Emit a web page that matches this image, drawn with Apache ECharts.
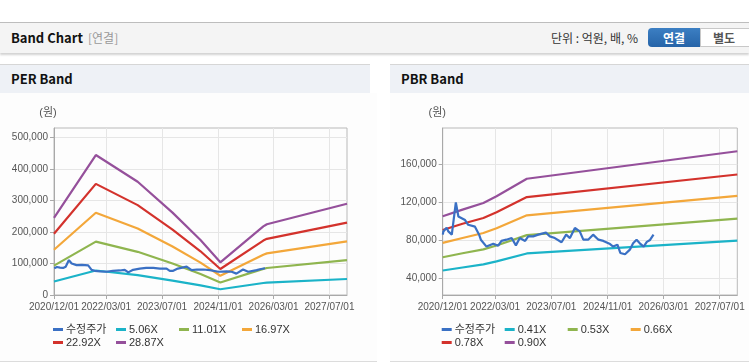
<!DOCTYPE html>
<html><head><meta charset="utf-8">
<script src="https://cdn.jsdelivr.net/npm/echarts@6/dist/echarts.min.js"></script>
<style>
html,body{margin:0;padding:0;width:749px;height:364px;overflow:hidden;background:#fff;font-family:"Noto Sans CJK KR","Liberation Sans",sans-serif;}
#hdr{position:absolute;left:0;top:22px;width:749px;height:30px;background:#f4f4f4;border-top:1px solid #bdbdbd;box-shadow:0 2px 2px rgba(0,0,0,0.18);}
#hdr .t{position:absolute;left:11px;top:6px;font-size:13px;font-weight:bold;color:#111;line-height:18px;}
#hdr .s{position:absolute;left:88px;top:6px;font-size:12px;color:#999;line-height:18px;}
#hdr .u{position:absolute;left:551px;top:6px;font-size:12px;color:#333;line-height:18px;}
#b1{position:absolute;left:648px;top:5px;width:52px;height:19px;background:linear-gradient(#3c7fc3,#2664a8);border-radius:4px 0 0 4px;color:#fff;font-size:12px;font-weight:bold;text-align:center;line-height:19px;}
#b2{position:absolute;left:700px;top:5px;width:52px;height:17px;background:#fff;border:1px solid #c8c8c8;color:#555;font-size:12px;font-weight:bold;text-align:center;line-height:17px;padding-right:0;}
#b2 span{position:relative;left:-3px;}
.pt{position:absolute;top:64px;height:28px;background:#eef1f6;border-top:1px solid #d6d6d6;}
.pt span{position:absolute;left:11px;top:5px;font-size:13px;font-weight:bold;color:#111;line-height:18px;}
.pb{position:absolute;top:93px;height:268px;background:#fdfdfd;border-bottom:1px solid #dcdcdc;}
.ch{position:absolute;top:93px;height:269px;}
</style></head>
<body>
<div id="hdr"><span class="t">Band Chart</span><span class="s">[연결]</span><span class="u">단위 : 억원, 배, %</span><div id="b1">연결</div><div id="b2"><span>별도</span></div></div>
<div class="pt" style="left:0;width:370px"><span>PER Band</span></div>
<div class="pt" style="left:390px;width:359px"><span>PBR Band</span></div>
<div class="pb" style="left:0;width:377px"></div>
<div class="pb" style="left:390px;width:359px"></div>
<div id="c1" class="ch" style="left:0;width:370px"></div>
<div id="c2" class="ch" style="left:390px;width:359px"></div>
<script>
// ---------- data ----------
const xTickDates = ['2020-12-01','2022-03-01','2023-07-01','2024-11-01','2026-03-01','2027-07-01'];
const xStart = '2020-12-01', xEnd = '2027-12-01';

// PER band
const perLegend = ['수정주가','5.06X','11.01X','16.97X','22.92X','28.87X'];
const perBandDates = ['2020-12-01','2021-12-01','2022-12-01','2023-10-01','2024-06-01','2024-11-21','2025-12-01','2026-01-01','2027-12-01'];
const per506  = [42900, 78000, 63100, 45900, 30700, 18200, 38200, 39400, 50800];
const per1101 = [93400, 169700, 137300, 99900, 66700, 39700, 83100, 85800, 110600];
const per1697 = [144000, 261600, 211600, 154000, 102900, 61100, 128100, 132300, 170500];
const per2292 = [194500, 353300, 285800, 208000, 139000, 82600, 173100, 178600, 230300];
const per2887 = [245000, 445000, 360000, 262000, 175000, 104000, 218000, 225000, 290000];
const perPriceDates = ['2020-12-03','2020-12-27','2021-01-22','2021-02-18','2021-03-13','2021-04-10','2021-05-04','2021-06-16','2021-08-01','2021-09-25','2021-10-25','2021-11-22','2022-01-07','2022-03-04','2022-04-28','2022-06-28','2022-08-10','2022-09-10','2022-10-22','2022-12-19','2023-02-13','2023-04-16','2023-06-13','2023-08-10','2023-09-07','2023-10-07','2023-11-16','2024-02-01','2024-03-16','2024-05-01','2024-06-25','2024-08-22','2024-11-04','2025-01-16','2025-02-28','2025-04-10','2025-04-25','2025-06-07','2025-07-22','2025-10-04','2025-11-01','2025-12-16'];
const perPrice = [85000,89000,87000,86000,90000,111000,100000,95000,96000,94000,80000,77000,75000,74000,77000,78000,80000,72000,80000,84000,86000,86000,84000,84000,77000,77000,84000,90000,79000,81000,81000,79000,74000,75000,74000,68000,67000,81000,74000,79000,82000,85000];
const perYTicks = [0,100000,200000,300000,400000,500000];

// PBR band
const pbrLegend = ['수정주가','0.41X','0.53X','0.66X','0.78X','0.90X'];
const pbrBandDates = ['2020-12-01','2021-05-22','2021-11-19','2022-03-13','2022-12-01','2027-12-01'];
const pbr041 = [47800, 51000, 54200, 57400, 65800, 79300];
const pbr053 = [61800, 66000, 70100, 74200, 85100, 102500];
const pbr066 = [77000, 82100, 87300, 92400, 106000, 126500];
const pbr078 = [90500, 97100, 103100, 109200, 125200, 149000];
const pbr090 = [105000, 112000, 119000, 126000, 144500, 173500];
const pbrPriceDates = ['2020-12-02','2020-12-07','2021-01-04','2021-01-19','2021-02-18','2021-03-07','2021-03-25','2021-04-16','2021-04-28','2021-06-13','2021-07-10','2021-09-07','2021-10-13','2021-10-28','2021-12-16','2022-02-13','2022-03-28','2022-04-25','2022-06-07','2022-07-22','2022-08-28','2022-10-01','2022-11-16','2022-12-13','2023-01-25','2023-03-10','2023-05-16','2023-06-19','2023-08-01','2023-09-28','2023-11-07','2023-12-10','2024-01-22','2024-03-04','2024-04-04','2024-05-16','2024-06-28','2024-08-13','2024-09-25','2024-11-22','2024-12-19','2025-01-25','2025-02-19','2025-04-01','2025-05-13','2025-06-10','2025-07-10','2025-08-07','2025-09-10','2025-10-07','2025-11-04','2025-12-04'];
const pbrPrice = [85600,89000,93000,89000,85600,87000,119600,104800,106000,101000,96000,94000,85600,80300,73000,76000,74000,79000,80300,82000,74300,82000,79000,83800,83800,85600,87700,83800,82000,77600,85600,82000,92600,89000,80300,80300,85600,80300,79000,75700,73000,75000,66300,65000,69800,76500,80300,76500,73000,78000,80000,85600];
const pbrYTicks = [40000,80000,120000,160000];

const colors = ['#3a70c4','#1bb3c8','#8fb54f','#f3a73a','#d3322c','#95509b'];

// ---------- build ----------
const ts = d => Date.UTC(+d.slice(0,4), +d.slice(5,7) - 1, +d.slice(8,10));
const zip = (ds, vs) => ds.map((d, i) => [ts(d), vs[i]]);
const fmtDate = v => { const d = new Date(v); const m = d.getUTCMonth()+1, dd = d.getUTCDate(); return d.getUTCFullYear() + '/' + (m<10?'0':'') + m + '/' + (dd<10?'0':'') + dd; };
const fmtNum = v => Math.round(v).toString().replace(/\B(?=(\d{3})+(?!\d))/g, ',');
const LF = '"Liberation Sans","Noto Sans CJK KR",sans-serif';

function makeOption(cfg) {
  const xt = xTickDates.map(ts);
  return {
    animation: false,
    color: colors,
    grid: { left: cfg.gl, top: 35, width: cfg.gw, height: 167, show: true, borderColor: '#b9b9b9', borderWidth: 1, backgroundColor: 'transparent' },
    legend: {
      data: cfg.legend, left: cfg.gl - 1, top: 230, width: 262, padding: 0, itemGap: 0,
      icon: 'rect', itemWidth: 10, itemHeight: 3,
      textStyle: { fontSize: 11, color: '#333', fontFamily: LF, width: 50, lineHeight: 13, padding: [0,0,0,-2] }
    },
    xAxis: {
      type: 'value', min: ts(xStart), max: ts(xEnd),
      axisLine: { lineStyle: { color: '#a9a9a9' } },
      axisTick: { show: true, length: 4, lineStyle: { color: '#a9a9a9' }, customValues: xt },
      axisLabel: { customValues: xt, formatter: v => fmtDate(v), fontSize: 10, color: '#555', fontFamily: LF, margin: 7, hideOverlap: false },
      splitLine: { show: true, lineStyle: { color: '#e6e6e6' } }
    },
    yAxis: {
      type: 'value', min: cfg.ymin, max: cfg.ymax,
      name: '(원)', nameLocation: 'end', nameGap: 10,
      nameTextStyle: { fontSize: 11, color: '#555', fontFamily: LF, align: 'center', padding: [0, cfg.np, 0, 0] },
      axisLine: { show: true, lineStyle: { color: '#a9a9a9' } },
      axisTick: { show: true, length: 4, lineStyle: { color: '#a9a9a9' }, customValues: cfg.yticks },
      axisLabel: { customValues: cfg.yticks, formatter: v => fmtNum(v), fontSize: 10, color: '#555', fontFamily: LF, margin: 6 },
      splitLine: { show: true, lineStyle: { color: '#e6e6e6' } }
    },
    series: cfg.series.map((s, i) => ({
      name: cfg.legend[i], type: 'line', data: s, showSymbol: false, symbol: 'none',
      lineStyle: { width: 2.2, color: colors[i] }, itemStyle: { color: colors[i] }, z: i === 0 ? 3 : 2
    }))
  };
}

const c1 = echarts.init(document.getElementById('c1'), null, { renderer: 'canvas' });
c1.setOption(makeOption({
  gl: 54, gw: 293, ymin: 0, ymax: 531000, yticks: perYTicks, np: 12, legend: perLegend,
  series: [zip(perPriceDates, perPrice), zip(perBandDates, per506), zip(perBandDates, per1101), zip(perBandDates, per1697), zip(perBandDates, per2292), zip(perBandDates, per2887)]
}));
const c2 = echarts.init(document.getElementById('c2'), null, { renderer: 'canvas' });
c2.setOption(makeOption({
  gl: 52.7, gw: 294.6, ymin: 22000, ymax: 198000, yticks: pbrYTicks, np: 11, legend: pbrLegend,
  series: [zip(pbrPriceDates, pbrPrice), zip(pbrBandDates, pbr041), zip(pbrBandDates, pbr053), zip(pbrBandDates, pbr066), zip(pbrBandDates, pbr078), zip(pbrBandDates, pbr090)]
}));
</script>
</body></html>
